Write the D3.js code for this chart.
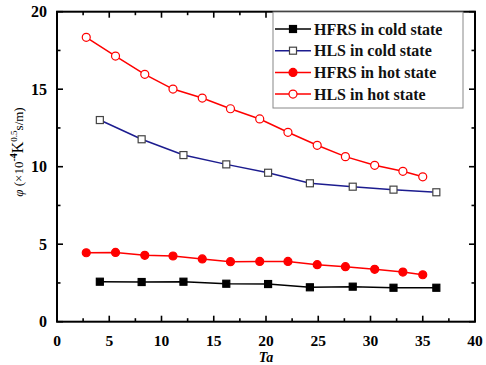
<!DOCTYPE html>
<html><head><meta charset="utf-8">
<script src="https://cdn.jsdelivr.net/npm/d3@7"></script>
<style>body{margin:0;background:#fff}svg{display:block}</style>
</head><body>
<script>
const coldTa = [4.1, 8.1, 12.1, 16.2, 20.2, 24.2, 28.3, 32.2, 36.3];
const hotTa = [2.8, 5.6, 8.4, 11.1, 13.9, 16.6, 19.4, 22.1, 24.9, 27.6, 30.4, 33.1, 35.0];
const hfrsCold = [2.58, 2.56, 2.58, 2.45, 2.43, 2.22, 2.26, 2.19, 2.19];
const hlsCold = [13.01, 11.77, 10.75, 10.15, 9.61, 8.93, 8.71, 8.52, 8.35];
const hfrsHot = [4.45, 4.47, 4.28, 4.24, 4.05, 3.87, 3.89, 3.89, 3.68, 3.55, 3.38, 3.2, 3.03];
const hlsHot = [18.35, 17.14, 15.96, 15.01, 14.43, 13.74, 13.08, 12.22, 11.38, 10.65, 10.09, 9.7, 9.35];
const xTicks = [0, 5, 10, 15, 20, 25, 30, 35, 40];
const yTicks = [0, 5, 10, 15, 20];
const seriesNames = ["HFRS in cold state", "HLS in cold state", "HFRS in hot state", "HLS in hot state"];

const W = 486, H = 365;
const L = 57, R = 475, T = 11.7, B = 321.7;
const svg = d3.select("body").append("svg").attr("width", W).attr("height", H);
const x = d3.scaleLinear().domain([0, 40]).range([L, R]);
const y = d3.scaleLinear().domain([0, 20]).range([B, T]);
const font = "'Liberation Serif', 'Times New Roman', serif";

const series = [
  {name: seriesNames[0], xs: coldTa, ys: hfrsCold, color: "#000", shape: "square", fill: "#000", mstroke: "#000"},
  {name: seriesNames[1], xs: coldTa, ys: hlsCold, color: "#1c1c8f", shape: "square", fill: "#fff", mstroke: "#444"},
  {name: seriesNames[2], xs: hotTa, ys: hfrsHot, color: "#ff0000", shape: "circle", fill: "#ff0000", mstroke: "#ff0000"},
  {name: seriesNames[3], xs: hotTa, ys: hlsHot, color: "#ff0000", shape: "circle", fill: "#fff", mstroke: "#ff0000"}
];

// ticks
const minorX = d3.range(2.5, 40, 5), minorY = d3.range(2.5, 20, 5);
const g = svg.append("g").attr("stroke", "#000").attr("stroke-width", 1.6);
xTicks.forEach(v => {
  g.append("line").attr("x1", x(v)).attr("x2", x(v)).attr("y1", B).attr("y2", B - 6);
  g.append("line").attr("x1", x(v)).attr("x2", x(v)).attr("y1", T).attr("y2", T + 6);
});
minorX.forEach(v => {
  g.append("line").attr("x1", x(v)).attr("x2", x(v)).attr("y1", B).attr("y2", B - 3.5);
  g.append("line").attr("x1", x(v)).attr("x2", x(v)).attr("y1", T).attr("y2", T + 3.5);
});
yTicks.forEach(v => {
  g.append("line").attr("x1", L).attr("x2", L + 6).attr("y1", y(v)).attr("y2", y(v));
  g.append("line").attr("x1", R).attr("x2", R - 6).attr("y1", y(v)).attr("y2", y(v));
});
minorY.forEach(v => {
  g.append("line").attr("x1", L).attr("x2", L + 3.5).attr("y1", y(v)).attr("y2", y(v));
  g.append("line").attr("x1", R).attr("x2", R - 3.5).attr("y1", y(v)).attr("y2", y(v));
});
svg.append("rect").attr("x", L).attr("y", T).attr("width", R - L).attr("height", B - T)
  .attr("fill", "none").attr("stroke", "#000").attr("stroke-width", 2);

// tick labels
svg.selectAll(".xl").data(xTicks).enter().append("text")
  .attr("x", d => x(d)).attr("y", 346).attr("text-anchor", "middle")
  .attr("font-family", font).attr("font-weight", "bold").attr("font-size", 15.5).text(d => d);
svg.selectAll(".yl").data(yTicks).enter().append("text")
  .attr("x", 47).attr("y", d => y(d) + 5.5).attr("text-anchor", "end")
  .attr("font-family", font).attr("font-weight", "bold").attr("font-size", 16).text(d => d);

// axis titles
svg.append("text").attr("x", x(20)).attr("y", 362).attr("text-anchor", "middle")
  .attr("font-family", font).attr("font-weight", "bold").attr("font-style", "italic").attr("font-size", 14).text("Ta");
const yt = svg.append("text").attr("transform", "translate(23,152) rotate(-90)").attr("text-anchor", "middle")
  .attr("font-family", font).attr("font-size", 13);
yt.append("tspan").attr("font-style", "italic").text("φ");
yt.append("tspan").text(" (×10");
yt.append("tspan").attr("dy", -6).attr("font-size", 10).attr("font-weight", "bold").text("-4");
yt.append("tspan").attr("dy", 6).attr("font-size", 16).text("K");
yt.append("tspan").attr("dy", -6).attr("font-size", 9).text("0.5");
yt.append("tspan").attr("dy", 6).text("s/m)");

// series
function marker(sel, s, cx, cy) {
  if (s.shape === "square") {
    sel.append("rect").attr("x", cx - 3.5).attr("y", cy - 3.5).attr("width", 7).attr("height", 7)
      .attr("fill", s.fill).attr("stroke", s.mstroke).attr("stroke-width", 1.2);
  } else {
    sel.append("circle").attr("cx", cx).attr("cy", cy).attr("r", 4)
      .attr("fill", s.fill).attr("stroke", s.mstroke).attr("stroke-width", 1.2);
  }
}
const line = d3.line().x(d => x(d[0])).y(d => y(d[1]));
series.forEach(s => {
  const pts = s.xs.map((v, i) => [v, s.ys[i]]);
  svg.append("path").attr("d", line(pts)).attr("fill", "none").attr("stroke", s.color).attr("stroke-width", 1.5);
  const mg = svg.append("g");
  pts.forEach(p => marker(mg, s, x(p[0]), y(p[1])));
});

// legend
const lg = svg.append("g");
lg.append("rect").attr("x", 273).attr("y", 12).attr("width", 190).attr("height", 96)
  .attr("fill", "#fff").attr("stroke", "#888").attr("stroke-width", 1);
series.forEach((s, i) => {
  const ly = 29 + i * 21.7;
  lg.append("line").attr("x1", 275).attr("x2", 311).attr("y1", ly).attr("y2", ly)
    .attr("stroke", s.color).attr("stroke-width", 1.5);
  marker(lg, s, 293, ly);
  lg.append("text").attr("x", 314).attr("y", ly + 5.5).attr("font-family", font).attr("font-weight", "bold")
    .attr("font-size", 16).attr("fill", "#111").text(s.name);
});
</script>
</body></html>
